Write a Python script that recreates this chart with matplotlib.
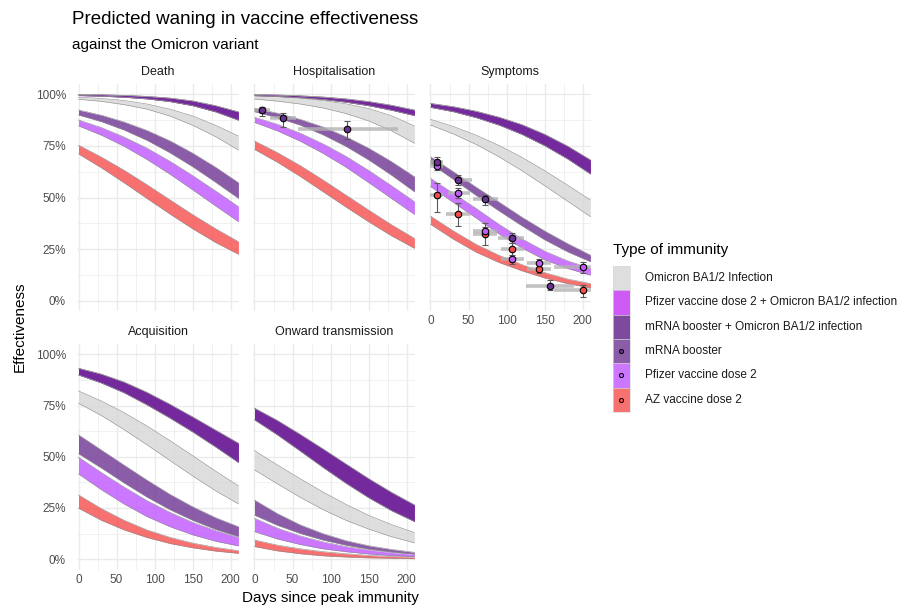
import matplotlib
matplotlib.use("Agg")
import matplotlib.pyplot as plt
from matplotlib.patches import Rectangle
from matplotlib.ticker import FixedLocator, FuncFormatter

plt.rcParams['font.family'] = ['Liberation Sans', 'DejaVu Sans']

# ---- data (percent effectiveness) ----
days = [0, 30, 60, 90, 120, 150, 180, 210]

immunity = ["Omicron BA1/2 Infection",
            "Pfizer vaccine dose 2 + Omicron BA1/2 infection",
            "mRNA booster + Omicron BA1/2 infection",
            "mRNA booster",
            "Pfizer vaccine dose 2",
            "AZ vaccine dose 2"]

death_upper = {"omicron": [98.6, 98.0, 97.0, 95.3, 92.8, 89.5, 85.0, 79.8],
               "hybrid": [99.9, 99.8, 99.5, 99.0, 98.2, 96.8, 94.5, 91.5],
               "booster": [92.4, 89.9, 86.6, 82.5, 77.5, 71.5, 64.7, 57.2],
               "pfizer": [87.6, 83.9, 79.3, 73.9, 67.6, 60.6, 53.2, 45.6],
               "az": [75.4, 69.6, 63.2, 56.2, 48.9, 41.7, 34.9, 28.6]}
death_lower = {"omicron": [97.6, 96.6, 95.0, 92.8, 89.5, 85.0, 79.5, 73.0],
               "hybrid": [99.4, 99.1, 98.6, 97.8, 96.5, 94.5, 91.5, 87.5],
               "booster": [90.0, 86.8, 82.7, 77.7, 71.7, 64.9, 57.4, 49.6],
               "pfizer": [84.7, 80.2, 74.8, 68.4, 61.3, 53.7, 45.9, 38.3],
               "az": [71.1, 64.4, 57.1, 49.5, 42.0, 34.8, 28.2, 22.5]}

hosp_upper = {"omicron": [99.2, 98.8, 98.1, 97.0, 95.4, 93.1, 89.6, 84.7],
              "hybrid": [99.9, 99.7, 99.3, 98.7, 97.8, 96.5, 94.7, 92.4],
              "booster": [93.2, 90.9, 87.9, 84.2, 79.5, 73.9, 67.4, 60.1],
              "pfizer": [88.9, 85.5, 81.2, 76.0, 70.0, 63.1, 55.7, 48.0],
              "az": [77.4, 71.8, 65.5, 58.5, 51.2, 43.9, 36.8, 30.2]}
hosp_lower = {"omicron": [97.7, 96.7, 95.3, 93.4, 90.7, 87.1, 82.3, 76.3],
              "hybrid": [99.4, 99.0, 98.4, 97.5, 96.2, 94.5, 92.3, 89.7],
              "booster": [91.6, 88.7, 85.1, 80.4, 74.8, 68.2, 60.8, 52.8],
              "pfizer": [86.4, 82.3, 77.3, 71.4, 64.7, 57.2, 49.5, 41.8],
              "az": [73.3, 67.1, 60.2, 52.8, 45.4, 38.2, 31.4, 25.4]}

symp_upper = {"omicron": [87.9, 84.4, 80.2, 75.2, 69.5, 63.0, 56.0, 48.8],
              "hybrid": [95.6, 94.0, 91.8, 88.9, 85.3, 80.6, 74.9, 68.2],
              "booster": [69.8, 62.5, 55.0, 47.8, 40.5, 33.8, 27.7, 22.1],
              "pfizer": [59.3, 52.0, 44.7, 37.0, 30.0, 24.0, 19.3, 15.7],
              "az": [41.0, 33.8, 27.3, 22.0, 17.5, 13.6, 10.5, 8.3]}
symp_lower = {"omicron": [85.1, 80.8, 75.7, 69.7, 63.0, 55.7, 48.2, 40.7],
              "hybrid": [93.7, 91.6, 88.7, 85.1, 80.6, 75.1, 68.7, 61.4],
              "booster": [66.5, 58.8, 51.0, 43.5, 36.3, 29.5, 23.7, 18.9],
              "pfizer": [55.3, 47.6, 40.0, 32.3, 25.5, 19.8, 15.6, 12.4],
              "az": [37.0, 29.8, 23.5, 18.5, 14.5, 11.0, 8.3, 6.2]}

acq_upper = {"omicron": [82.1, 77.2, 71.5, 65.0, 57.9, 50.5, 43.0, 35.8],
             "hybrid": [93.2, 90.3, 86.4, 81.4, 75.6, 69.4, 63.0, 56.6],
             "booster": [60.7, 53.3, 45.9, 38.6, 31.7, 25.6, 20.3, 15.9],
             "pfizer": [49.8, 42.3, 35.2, 28.6, 22.9, 18.0, 14.0, 10.7],
             "az": [31.4, 24.7, 19.0, 14.3, 10.7, 7.9, 5.8, 4.2]}
acq_lower = {"omicron": [76.1, 70.1, 63.2, 55.8, 48.2, 40.6, 33.4, 27.0],
             "hybrid": [89.9, 86.0, 81.2, 75.3, 68.9, 62.1, 54.8, 47.2],
             "booster": [51.5, 44.5, 37.2, 30.3, 24.2, 19.0, 14.6, 11.1],
             "pfizer": [41.6, 33.9, 26.9, 20.8, 15.9, 11.9, 8.8, 6.5],
             "az": [24.9, 19.0, 14.3, 10.6, 7.7, 5.6, 4.0, 2.9]}

onward_upper = {"omicron": [53.0, 46.0, 39.3, 32.8, 26.8, 21.4, 16.9, 13.0],
                "hybrid": [73.7, 67.7, 60.9, 53.8, 46.5, 39.3, 32.6, 26.5],
                "booster": [28.9, 22.3, 16.8, 12.5, 9.1, 6.6, 4.8, 3.4],
                "pfizer": [20.0, 15.2, 11.4, 8.5, 6.2, 4.6, 3.3, 2.4],
                "az": [9.4, 6.9, 5.1, 3.7, 2.7, 1.9, 1.4, 1.0]}
onward_lower = {"omicron": [43.6, 36.8, 30.2, 24.2, 19.0, 14.7, 11.0, 8.0],
                "hybrid": [68.0, 60.7, 52.8, 44.8, 37.1, 30.0, 23.7, 18.4],
                "booster": [21.5, 16.6, 12.6, 9.4, 6.9, 5.0, 3.6, 2.6],
                "pfizer": [13.5, 9.9, 7.2, 5.1, 3.7, 2.6, 1.8, 1.3],
                "az": [6.2, 4.1, 2.7, 1.7, 1.1, 0.7, 0.5, 0.3]}

# observed estimates (points with CIs)
hosp_booster_day = [10, 37.5, 122]
hosp_booster_ve = [92.4, 88.4, 83.2]
hosp_booster_lo = [89.5, 84.3, 78.2]
hosp_booster_hi = [94.0, 91.1, 87.2]
hosp_booster_from = [0, 21, 57]
hosp_booster_to = [20, 54, 188]

symp_booster_day = [8.4, 36.7, 72, 107, 157]
symp_booster_ve = [67.4, 58.5, 49.4, 30.2, 7.1]
symp_booster_lo = [65.3, 56.1, 46.4, 27.8, 5.2]
symp_booster_hi = [69.8, 60.9, 51.2, 32.6, 10.0]
symp_booster_from = [0, 32, 56, 89, 126]
symp_booster_to = [17, 54, 89, 123, 189]

symp_pfizer_day = [8.4, 36.7, 72, 107, 142, 200]
symp_pfizer_ve = [65.3, 52.0, 33.9, 20.0, 18.1, 16.2]
symp_pfizer_lo = [63.3, 49.6, 31.8, 17.8, 15.7, 13.6]
symp_pfizer_hi = [67.4, 54.4, 37.5, 22.1, 20.2, 18.9]
symp_pfizer_from = [0, 23, 56, 92, 127, 162]
symp_pfizer_to = [17, 52, 87, 123, 158, 211]

symp_az_day = [8.4, 36.7, 72, 107, 142, 200]
symp_az_ve = [51.2, 42.2, 32.3, 25.0, 15.2, 5.2]
symp_az_lo = [43.1, 36.2, 27.0, 21.3, 13.2, 1.6]
symp_az_hi = [57.2, 47.2, 35.9, 27.8, 17.8, 7.6]
symp_az_from = [0, 21, 56, 92, 127, 162]
symp_az_to = [17, 52, 87, 123, 158, 211]

# ---- styling ----
band_cols = {"omicron": "#D6D6D6", "pfizer_hybrid": "#C432F2", "hybrid": "#5E1D86",
             "booster": "#6E3392", "pfizer": "#BF55FF", "az": "#F64D4D"}
point_cols = {"booster": "#6A3190", "pfizer": "#C05CF5", "az": "#F44A4A"}
ALPHA = 0.8

W, H = 912, 608
fig = plt.figure(figsize=(W / 100, H / 100), dpi=100)


def px_axes(left, top, right, bottom):
    return fig.add_axes([left / W, 1 - bottom / H, (right - left) / W, (bottom - top) / H])


col_zero = [78.5, 254.5, 430.5]
px_per_day = 0.7615
rows = [(84.0, 311.0), (344.0, 569.5)]

panel_data = [("Death", death_lower, death_upper, 0, 0),
              ("Hospitalisation", hosp_lower, hosp_upper, 0, 1),
              ("Symptoms", symp_lower, symp_upper, 0, 2),
              ("Acquisition", acq_lower, acq_upper, 1, 0),
              ("Onward transmission", onward_lower, onward_upper, 1, 1)]

axes = {}
for name, lower, upper, r, c in panel_data:
    left = col_zero[c] - 2 * px_per_day
    right = col_zero[c] + 211 * px_per_day
    top, bottom = rows[r]
    ax = px_axes(left, top, right, bottom)
    axes[name] = ax
    ax.set_xlim(-2, 211)
    ax.set_ylim(-5, 105)
    for s in ax.spines.values():
        s.set_visible(False)
    ax.xaxis.set_major_locator(FixedLocator([0, 50, 100, 150, 200]))
    ax.xaxis.set_minor_locator(FixedLocator([25, 75, 125, 175]))
    ax.yaxis.set_major_locator(FixedLocator([0, 25, 50, 75, 100]))
    ax.yaxis.set_minor_locator(FixedLocator([12.5, 37.5, 62.5, 87.5]))
    ax.grid(which="major", color="#EBEBEB", lw=1.0)
    ax.grid(which="minor", color="#EBEBEB", lw=0.5)
    ax.set_axisbelow(True)
    ax.tick_params(which="both", length=0, labelsize=8.5, labelcolor="#4D4D4D")
    ax.tick_params(axis="y", pad=8)
    ax.tick_params(axis="x", pad=3)
    ax.yaxis.set_major_formatter(FuncFormatter(lambda v, p: f"{v:.0f}%"))
    if c != 0:
        ax.tick_params(axis="y", labelleft=False)
    if name in ("Death", "Hospitalisation"):
        ax.tick_params(axis="x", labelbottom=False)

    # bands: infection, hybrids (overlapping), vaccine-only
    order = [("omicron", "omicron"), ("hybrid", "pfizer_hybrid"), ("hybrid", "hybrid"),
             ("booster", "booster"), ("pfizer", "pfizer"), ("az", "az")]
    for key, ckey in order:
        ax.fill_between(days, lower[key], upper[key], color=band_cols[ckey],
                        alpha=ALPHA, lw=0, zorder=2)
        ax.plot(days, lower[key], color="#8C8C8C", lw=0.4, zorder=3)
        ax.plot(days, upper[key], color="#8C8C8C", lw=0.4, zorder=3)

    fig.text((left + right) / 2 / W, 1 - (top - 12) / H, name, ha="center", va="center",
             fontsize=9, color="#1A1A1A")


def add_points(ax, d, ve, lo, hi, d0, d1, col):
    ax.hlines(ve, d0, d1, color="#B3B3B3", lw=2.6, alpha=0.8, zorder=4)
    ax.errorbar(d, ve, yerr=[[v - l for v, l in zip(ve, lo)], [h - v for v, h in zip(ve, hi)]],
                fmt="none", ecolor="#5A5A5A", elinewidth=0.8, capsize=2, capthick=0.8, zorder=5)
    ax.scatter(d, ve, s=22, color=col, edgecolor="black", linewidth=0.8, zorder=6)


add_points(axes["Hospitalisation"], hosp_booster_day, hosp_booster_ve, hosp_booster_lo,
           hosp_booster_hi, hosp_booster_from, hosp_booster_to, point_cols["booster"])
sax = axes["Symptoms"]
add_points(sax, symp_az_day, symp_az_ve, symp_az_lo, symp_az_hi,
           symp_az_from, symp_az_to, point_cols["az"])
add_points(sax, symp_pfizer_day, symp_pfizer_ve, symp_pfizer_lo, symp_pfizer_hi,
           symp_pfizer_from, symp_pfizer_to, point_cols["pfizer"])
add_points(sax, symp_booster_day, symp_booster_ve, symp_booster_lo, symp_booster_hi,
           symp_booster_from, symp_booster_to, point_cols["booster"])

# titles and axis labels
fig.text(72 / W, 1 - 20 / H, "Predicted waning in vaccine effectiveness", fontsize=13.5,
         ha="left", va="center", color="black")
fig.text(72 / W, 1 - 45 / H, "against the Omicron variant", fontsize=11,
         ha="left", va="center", color="black")
fig.text(20 / W, 1 - 327 / H, "Effectiveness", rotation=90, fontsize=11,
         ha="center", va="center")
fig.text(330 / W, 1 - 598 / H, "Days since peak immunity", fontsize=11,
         ha="center", va="center")

# legend drawn in pixel space
lax = fig.add_axes([0, 0, 1, 1])
lax.set_xlim(0, W)
lax.set_ylim(H, 0)
lax.axis("off")
lax.text(613, 250, "Type of immunity", fontsize=11, ha="left", va="center")
key_cols = ["omicron", "pfizer_hybrid", "hybrid", "booster", "pfizer", "az"]
key_pts = [None, None, None, "booster", "pfizer", "az"]
key_h = 24.3
for i, label in enumerate(immunity):
    y0 = 266 + i * key_h
    lax.add_patch(Rectangle((613, y0), 17, key_h, facecolor=band_cols[key_cols[i]],
                            alpha=ALPHA, edgecolor="none"))
    lax.add_patch(Rectangle((613, y0), 17, key_h, facecolor="none",
                            edgecolor="#D9D9D9", lw=0.5))
    if key_pts[i]:
        lax.scatter([621.5], [y0 + key_h / 2], s=9, color=point_cols[key_pts[i]],
                    edgecolor="black", linewidth=0.7, zorder=5)
    lax.text(645, y0 + key_h / 2, label, fontsize=8.5, ha="left", va="center",
             color="#1A1A1A")

fig.savefig("out.png", dpi=100)
